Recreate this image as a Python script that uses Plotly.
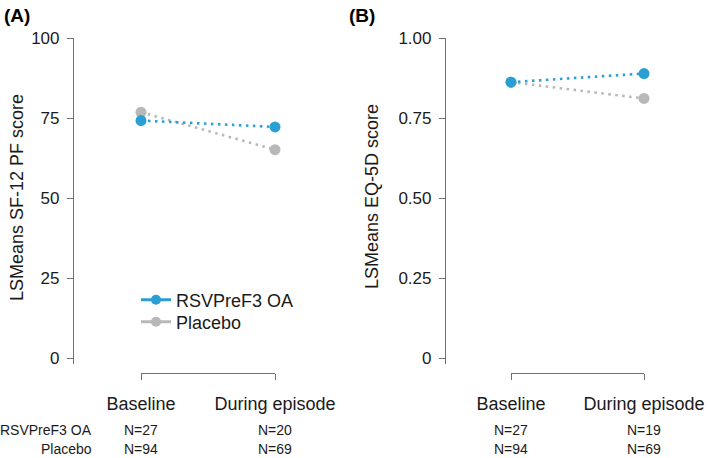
import plotly.graph_objects as go

W, H = 709, 458

timepoints = [1, 2]
time_labels = ["Baseline", "During episode"]
groups = ["RSVPreF3 OA", "Placebo"]

sf12_rsv = [74.2, 72.2]
sf12_pbo = [76.8, 65.1]
eq5d_rsv = [0.862, 0.889]
eq5d_pbo = [0.862, 0.811]

n_a_rsv = ["N=27", "N=20"]
n_a_pbo = ["N=94", "N=69"]
n_b_rsv = ["N=27", "N=19"]
n_b_pbo = ["N=94", "N=69"]

sf12_ticks = [0, 25, 50, 75, 100]
eq5d_ticks = [0, 0.25, 0.5, 0.75, 1.0]
eq5d_ticktext = ["0", "0.25", "0.50", "0.75", "1.00"]

BLUE = "#2A9FD4"
GREY = "#B8B8B8"
AXC = "#707070"
TXT = "#1a1a1a"
FONT = "Liberation Sans, Arial, sans-serif"

def px(x):
    return x / W

def py(y):
    return 1 - y / H

fig = go.Figure()

def add_series(xa, ya, vals, color):
    fig.add_trace(go.Scatter(
        x=timepoints, y=vals, xaxis=xa, yaxis=ya, mode="lines+markers",
        line=dict(color=color, width=2.6, dash="2.5px,4.5px"),
        marker=dict(color=color, size=11), cliponaxis=False, showlegend=False))

add_series("x", "y", sf12_pbo, GREY)
add_series("x", "y", sf12_rsv, BLUE)
add_series("x2", "y2", eq5d_pbo, GREY)
add_series("x2", "y2", eq5d_rsv, BLUE)

# legend entries (solid line + marker), one legend per entry for exact spacing
for name, color, lg in zip(groups, [BLUE, GREY], ["legend", "legend2"]):
    fig.add_trace(go.Scatter(x=[None], y=[None], mode="lines+markers", name=name,
                             line=dict(color=color, width=3), marker=dict(color=color, size=10),
                             xaxis="x", yaxis="y", legend=lg))

xcommon = dict(range=[1, 2], tickvals=timepoints, ticktext=time_labels, showline=True,
               linecolor=AXC, linewidth=1.2, ticks="outside", ticklen=6, tickcolor=AXC,
               tickfont=dict(size=18, color=TXT, family=FONT), showgrid=False, zeroline=False,
               anchor="free", position=py(373), ticklabelstandoff=8, automargin=False)
ycommon = dict(showline=True, linecolor=AXC, linewidth=1.2, ticks="outside", ticklen=6,
               tickcolor=AXC, tickfont=dict(size=17, color=TXT, family=FONT), showgrid=False,
               zeroline=False, anchor="free", domain=[py(364.4), py(38)], automargin=False,
               ticklabelstandoff=4)

legcommon = dict(xanchor="left", yanchor="middle",
                 font=dict(size=18, color=TXT, family=FONT), bgcolor="rgba(0,0,0,0)",
                 itemwidth=30)

fig.update_layout(
    template="none",
    width=W, height=H, margin=dict(l=0, r=0, t=0, b=0, pad=0),
    paper_bgcolor="white", plot_bgcolor="white",
    font=dict(family=FONT, color=TXT),
    xaxis=dict(domain=[px(141), px(275)], **xcommon),
    xaxis2=dict(domain=[px(511), px(644)], **xcommon),
    yaxis=dict(range=[-2, 100], tickvals=sf12_ticks, position=px(73), **ycommon),
    yaxis2=dict(range=[-0.02, 1.0], tickvals=eq5d_ticks, ticktext=eq5d_ticktext,
                position=px(445), **ycommon),
    legend=dict(x=px(136), y=py(300), **legcommon),
    legend2=dict(x=px(136), y=py(322), **legcommon),
)

ann = []
# panel labels
ann.append(dict(text="<b>(A)</b>", x=px(2), y=py(15), xref="paper", yref="paper",
                xanchor="left", yanchor="middle", showarrow=False, font=dict(size=19, color="black")))
ann.append(dict(text="<b>(B)</b>", x=px(347), y=py(15), xref="paper", yref="paper",
                xanchor="left", yanchor="middle", showarrow=False, font=dict(size=19, color="black")))
# y titles
ann.append(dict(text="LSMeans SF-12 PF score", x=px(17), y=py(198), xref="paper", yref="paper",
                xanchor="center", yanchor="middle",
                textangle=-90, showarrow=False, font=dict(size=18, color=TXT)))
ann.append(dict(text="LSMeans EQ-5D score", x=px(372), y=py(197), xref="paper", yref="paper",
                xanchor="center", yanchor="middle",
                textangle=-90, showarrow=False, font=dict(size=18, color=TXT)))
# row labels
for lab, yy in zip(groups, [430, 449]):
    ann.append(dict(text=lab, x=px(94), y=py(yy), xref="paper", yref="paper", xanchor="right",
                    yanchor="middle", showarrow=False, font=dict(size=14, color=TXT)))
# N labels
for xa, rows in [("x", [n_a_rsv, n_a_pbo]), ("x2", [n_b_rsv, n_b_pbo])]:
    for row, yy in zip(rows, [430, 449]):
        for t, lab in zip(timepoints, row):
            ann.append(dict(text=lab, x=t, y=py(yy), xref=xa, yref="paper", xanchor="center",
                            yanchor="middle", showarrow=False, font=dict(size=14, color=TXT)))

fig.update_layout(annotations=ann)
fig.write_html("out.html", config={"displayModeBar": False},
               post_script="document.body.style.margin='0';document.body.style.overflow='hidden';")
